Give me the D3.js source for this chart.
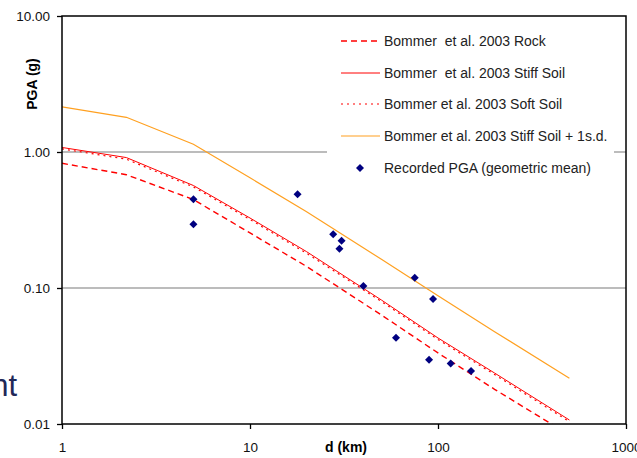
<!DOCTYPE html>
<html><head><meta charset="utf-8">
<script src="https://cdn.jsdelivr.net/npm/d3@7"></script>
<style>
html,body{margin:0;padding:0;background:#fff;}
svg{display:block;font-family:"Liberation Sans",Arial,sans-serif;}
</style></head>
<body><svg id="c" width="637" height="458"></svg>
<script>
// Data
const distances = [1, 2.2, 5, 10, 20, 50, 100, 200, 500];
const rock      = [0.826, 0.681, 0.447, 0.254, 0.144, 0.0633, 0.0333, 0.018, 0.0083];
const stiffSoil = [1.08, 0.91, 0.567, 0.327, 0.185, 0.0816, 0.0429, 0.0237, 0.0107];
const softSoil  = [1.055, 0.885, 0.553, 0.319, 0.180, 0.0796, 0.0418, 0.0231, 0.0104];
const stiffPlus = [2.15, 1.80, 1.14, 0.646, 0.364, 0.1626, 0.0876, 0.0477, 0.0217];
const recD   = [5, 5, 17.9, 27.7, 30.7, 29.9, 40.1, 75.2, 94.1, 59.8, 89.6, 116.8, 149.9];
const recPGA = [0.449, 0.294, 0.489, 0.248, 0.223, 0.194, 0.1035, 0.119, 0.083, 0.043, 0.0297, 0.0279, 0.0245];
const xTicks = [1, 10, 100, 1000];
const yTicks = [0.01, 0.1, 1, 10];
const legendLabels = [
  "Bommer  et al. 2003 Rock",
  "Bommer  et al. 2003 Stiff Soil",
  "Bommer et al. 2003 Soft Soil",
  "Bommer et al. 2003 Stiff Soil + 1s.d.",
  "Recorded PGA (geometric mean)"
];

const svg = d3.select("#c");
const L = 62, R = 626, T = 16, B = 424;
const x = d3.scaleLog().domain([1, 1000]).range([L, R]);
const y = d3.scaleLog().domain([0.01, 10]).range([B, T]);

// background text fragment
svg.append("text").attr("x", 17).attr("y", 396).attr("text-anchor", "end")
  .attr("font-size", 31).attr("fill", "#1f2858").text("nt");

// gridlines
svg.append("g").selectAll("line").data([0.1, 1]).join("line")
  .attr("x1", L).attr("x2", R).attr("y1", d => y(d)).attr("y2", d => y(d))
  .attr("stroke", "#a6a6a6").attr("stroke-width", 1.3);

// legend background
svg.append("rect").attr("x", 327).attr("y", 22).attr("width", 287).attr("height", 164).attr("fill", "#fff");

svg.append("clipPath").attr("id", "pc").append("rect")
  .attr("x", L).attr("y", T).attr("width", R - L).attr("height", B - T);

const series = [
  {v: rock, color: "#ff0000", dash: "6,4", w: 1.4},
  {v: stiffSoil, color: "#ff0000", dash: null, w: 1},
  {v: softSoil, color: "#ff0000", dash: "2,4", w: 1.2},
  {v: stiffPlus, color: "#ffa020", dash: null, w: 1.2}
];
const line = d3.line().x(d => x(d[0])).y(d => y(d[1]));
const gL = svg.append("g").attr("clip-path", "url(#pc)");
series.forEach(s => {
  gL.append("path").datum(distances.map((d, i) => [d, s.v[i]]))
    .attr("d", line).attr("fill", "none").attr("stroke", s.color)
    .attr("stroke-width", s.w).attr("stroke-dasharray", s.dash);
});

const diamond = (cx, cy, r) => `M${cx},${cy - r}L${cx + r},${cy}L${cx},${cy + r}L${cx - r},${cy}Z`;
svg.append("g").selectAll("path").data(recD.map((d, i) => [d, recPGA[i]])).join("path")
  .attr("d", d => diamond(x(d[0]), y(d[1]), 4)).attr("fill", "#000080");

// axes
const xAxis = d3.axisBottom(x).tickValues(xTicks).tickFormat(d3.format("d")).tickSize(5).tickPadding(13);
const yAxis = d3.axisLeft(y).tickValues(yTicks).tickFormat(d3.format(".2f")).tickSize(5).tickPadding(7);
const gx = svg.append("g").attr("transform", `translate(0,${B})`).call(xAxis);
const gy = svg.append("g").attr("transform", `translate(${L},0)`).call(yAxis);
[gx, gy].forEach(g => {
  g.select(".domain").remove();
  g.selectAll("line").attr("stroke", "#000").attr("stroke-width", 1.3);
  g.selectAll("text").attr("font-size", 13.5).attr("fill", "#111");
});
// frame
svg.append("rect").attr("x", L).attr("y", T).attr("width", R - L).attr("height", B - T)
  .attr("fill", "none").attr("stroke", "#000").attr("stroke-width", 1.5);

// axis titles
svg.append("text").attr("transform", "translate(37,84) rotate(-90)").attr("text-anchor", "middle")
  .attr("font-size", 14).attr("font-weight", "bold").text("PGA (g)");
svg.append("text").attr("x", 346).attr("y", 452).attr("text-anchor", "middle")
  .attr("font-size", 14).attr("font-weight", "bold").text("d (km)");

// legend
const ly = [41, 73, 104, 136, 168];
const lg = svg.append("g");
series.forEach((s, i) => {
  lg.append("line").attr("x1", 341).attr("x2", 380).attr("y1", ly[i]).attr("y2", ly[i])
    .attr("stroke", s.color).attr("stroke-width", s.w).attr("stroke-dasharray", s.dash);
});
lg.append("path").attr("d", diamond(360, ly[4], 4)).attr("fill", "#000080");
lg.selectAll("text").data(legendLabels).join("text")
  .attr("x", 384).attr("y", (d, i) => ly[i]).attr("dy", "0.35em")
  .attr("font-size", 14).attr("fill", "#222")
  .style("white-space", "pre").text(d => d);
</script></body></html>
